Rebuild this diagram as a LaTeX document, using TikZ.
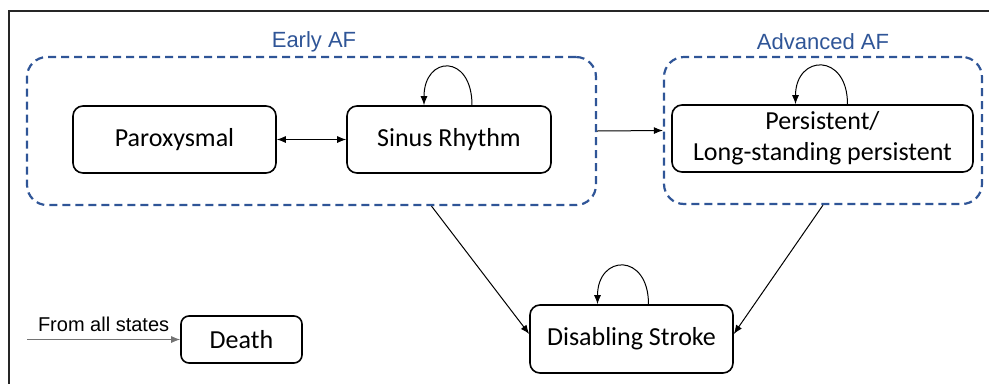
\documentclass[tikz,border=0pt]{standalone}
\usepackage{fontspec}
\setmainfont{Carlito}
\newfontfamily\arialfont{Liberation Sans}
\usepackage{tikz}
\usetikzlibrary{arrows.meta}
\usetikzlibrary{positioning}
\definecolor{groupblue}{RGB}{47,85,151}

\begin{document}
\begin{tikzpicture}[x=1pt,y=-1pt,
    state/.style = {draw, rounded corners=10pt, line width=1.6pt, minimum height=67pt,
        align=center, font=\fontsize{26}{31}\selectfont},
    group/.style = {draw=groupblue, dashed, dash pattern=on 8pt off 5pt, line width=2.2pt,
        rounded corners=20pt},
    grouplabel/.style = {text=groupblue, font=\arialfont\fontsize{22}{26}\selectfont},
    trans/.style = {draw, line width=1pt, -{Latex[length=9pt,width=7pt]}},
    selfloop/.style = {trans}]
    \useasboundingbox (0,0) rectangle (989,384);
    \draw[line width=2.5pt, color=black!85] (989,11) -- (9,11) -- (9,384);

    % groups
    \node [group, minimum width=569pt, minimum height=148pt] (early) at (311.5,131) {};
    \node [group, minimum width=318pt, minimum height=147pt] (advanced) at (823,130.5) {};
    \node [grouplabel] (earlylabel) at (314,42) {Early AF};
    \node [grouplabel] (advancedlabel) at (823,42) {Advanced AF};

    % states
    \node [state, minimum width=203pt] (paroxysmal) at (174.5,139.5) {Paroxysmal};
    \node [state, minimum width=204pt] (sinus) at (449,139.5) {Sinus Rhythm};
    \node [state, minimum width=301pt] (persistent) at (822.5,138.5) {Persistent/\\Long-standing persistent};
    \node [state, minimum width=203pt, minimum height=68pt] (stroke) at (631.5,339) {Disabling Stroke};
    \node [state, rounded corners=8pt, minimum width=121pt, minimum height=47pt] (death) at (241.5,339.5) {Death};
    \coordinate (allstates) at (27,339.5);

    % transitions
    \draw [trans, {Latex[length=9pt,width=7pt]}-{Latex[length=9pt,width=7pt]}] (paroxysmal) -- (sinus);
    \draw [trans] (early.east) -- (advanced.west);
    \draw [trans] ([xshift=120pt]early.south) -- ([yshift=5pt]stroke.west);
    \draw [trans] (advanced.south) -- ([yshift=5pt]stroke.east);
    \draw [trans, draw=black!55] (allstates) -- (death.west)
        node [midway, above=4pt, text=black, font=\arialfont\fontsize{20}{24}\selectfont] {From all states};

    % self loops
    \draw [selfloop] ([xshift=23pt]sinus.north) .. controls +(0,-52) and +(0,-50) .. ([xshift=-25pt]sinus.north);
    \draw [selfloop] ([xshift=25pt]persistent.north) .. controls +(0,-52) and +(0,-50) .. ([xshift=-27pt]persistent.north);
    \draw [selfloop] ([xshift=17pt]stroke.north) .. controls +(0,-52) and +(0,-50) .. ([xshift=-34pt]stroke.north);
\end{tikzpicture}
\end{document}
